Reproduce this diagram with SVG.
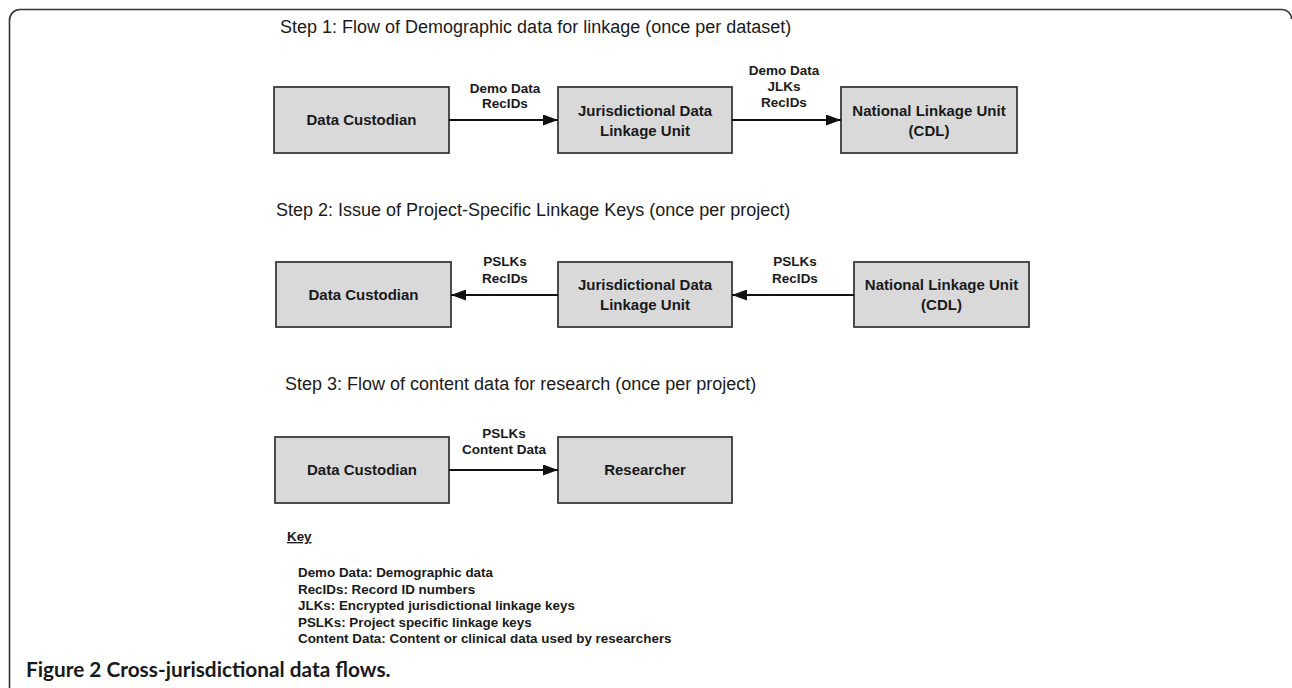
<svg xmlns="http://www.w3.org/2000/svg" width="1292" height="688" viewBox="0 0 1292 688">
<defs>
<style>
.box{fill:#d9d9d9;stroke:#3a3a3a;stroke-width:1.8}
.nt{font-family:"Liberation Sans",Arial,sans-serif;font-weight:bold;font-size:15px;fill:#1a1a1a;text-anchor:middle}
.lb{font-family:"Liberation Sans",Arial,sans-serif;font-weight:bold;font-size:13.5px;fill:#1a1a1a;text-anchor:middle}
.ti{font-family:"Liberation Sans",Arial,sans-serif;font-size:18px;fill:#1a1a1a}
.key{font-family:"Liberation Sans",Arial,sans-serif;font-weight:bold;font-size:13.4px;fill:#1a1a1a}
.ln{stroke:#111;stroke-width:2;fill:none}
</style>
<marker id="ah" viewBox="0 0 15 11" refX="15" refY="5.5" markerWidth="15" markerHeight="11" markerUnits="userSpaceOnUse" orient="auto">
<path d="M0,0 L15,5.5 L0,11 Z" fill="#111"/>
</marker>
</defs>
<rect width="1292" height="688" fill="#fff"/>
<path d="M9.5,688 V20 A10.5,10.5 0 0 1 20,9.5 H1282 A9.5,9.5 0 0 1 1291.5,19" fill="none" stroke="#333" stroke-width="1.6"/>

<text class="ti" x="280" y="33">Step 1: Flow of Demographic data for linkage (once per dataset)</text>
<text class="ti" x="276" y="215.5">Step 2: Issue of Project-Specific Linkage Keys (once per project)</text>
<text class="ti" x="285" y="390">Step 3: Flow of content data for research (once per project)</text>

<g id="s1-custodian"><rect class="box" x="274" y="87" width="175" height="66"/><text class="nt" x="361.5" y="125">Data Custodian</text></g>
<g id="s1-jdlu"><rect class="box" x="558" y="87" width="174" height="66"/><text class="nt" x="645" y="115.5">Jurisdictional Data</text><text class="nt" x="645" y="135.5">Linkage Unit</text></g>
<g id="s1-nlu"><rect class="box" x="841" y="87" width="176" height="66"/><text class="nt" x="929" y="115.5">National Linkage Unit</text><text class="nt" x="929" y="135.5">(CDL)</text></g>

<g id="s2-custodian"><rect class="box" x="276" y="262" width="175" height="65"/><text class="nt" x="363.5" y="300">Data Custodian</text></g>
<g id="s2-jdlu"><rect class="box" x="558" y="262" width="174" height="65"/><text class="nt" x="645" y="290">Jurisdictional Data</text><text class="nt" x="645" y="310">Linkage Unit</text></g>
<g id="s2-nlu"><rect class="box" x="854" y="262" width="175" height="65"/><text class="nt" x="941.5" y="290">National Linkage Unit</text><text class="nt" x="941.5" y="310">(CDL)</text></g>

<g id="s3-custodian"><rect class="box" x="275" y="437" width="174" height="66"/><text class="nt" x="362" y="475">Data Custodian</text></g>
<g id="s3-researcher"><rect class="box" x="558" y="437" width="174" height="66"/><text class="nt" x="645" y="475">Researcher</text></g>

<g id="connectors">
<line class="ln" x1="449" y1="120" x2="558" y2="120" marker-end="url(#ah)"/>
<line class="ln" x1="732" y1="120" x2="841" y2="120" marker-end="url(#ah)"/>
<line class="ln" x1="558" y1="295" x2="451" y2="295" marker-end="url(#ah)"/>
<line class="ln" x1="854" y1="295" x2="732" y2="295" marker-end="url(#ah)"/>
<line class="ln" x1="449" y1="470" x2="558" y2="470" marker-end="url(#ah)"/>
<text class="lb" x="505" y="93">Demo Data</text>
<text class="lb" x="505" y="108">RecIDs</text>
<text class="lb" x="784" y="75">Demo Data</text>
<text class="lb" x="784" y="91">JLKs</text>
<text class="lb" x="784" y="107">RecIDs</text>
<text class="lb" x="505" y="266">PSLKs</text>
<text class="lb" x="505" y="282.5">RecIDs</text>
<text class="lb" x="795" y="266">PSLKs</text>
<text class="lb" x="795" y="282.5">RecIDs</text>
<text class="lb" x="504" y="438">PSLKs</text>
<text class="lb" x="504" y="454">Content Data</text>
</g>

<g id="key">
<text class="key" x="287" y="541" text-decoration="underline">Key</text>
<text class="key" x="298" y="577">Demo Data: Demographic data</text>
<text class="key" x="298" y="593.5">RecIDs: Record ID numbers</text>
<text class="key" x="298" y="610">JLKs: Encrypted jurisdictional linkage keys</text>
<text class="key" x="298" y="626.5">PSLKs: Project specific linkage keys</text>
<text class="key" x="298" y="643">Content Data: Content or clinical data used by researchers</text>
</g>

<text x="26" y="677" font-family="Lato,'Open Sans',sans-serif" font-weight="bold" font-size="20.8" fill="#1a1a1a">Figure 2 Cross-jurisdictional data flows.</text>
</svg>
